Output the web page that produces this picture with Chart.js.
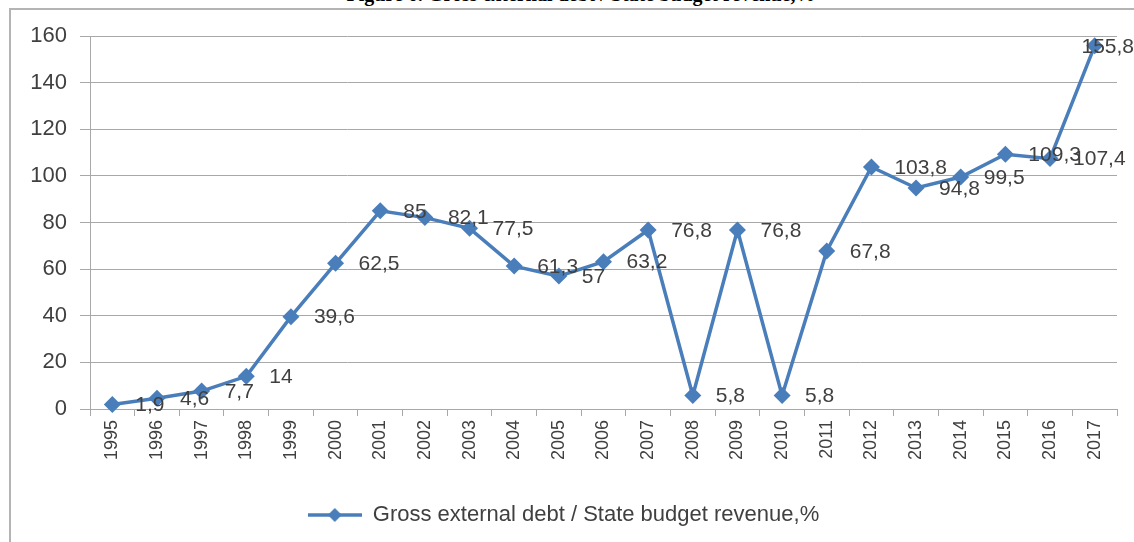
<!DOCTYPE html>
<html>
<head>
<meta charset="utf-8">
<script src="https://cdn.jsdelivr.net/npm/chart.js@4.4.0/dist/chart.umd.min.js"></script>
<style>
  html, body { margin: 0; padding: 0; background: #fff; }
  #wrap { position: relative; width: 1134px; height: 542px; overflow: hidden; }
  #title {
    position: absolute; left: 0; width: 1162px; top: -17px; text-align: center;
    font: bold 20px "Liberation Serif", serif; color: #000; white-space: nowrap;
  }
  #frame {
    position: absolute; left: 9px; top: 8px; right: -5px; bottom: -5px;
    border-left: 2px solid #b4b4b4; border-top: 2px solid #b4b4b4;
  }
  canvas { position: absolute; left: 0; top: 0; }
</style>
</head>
<body>
<div id="wrap">
  <div id="title">Figure 6. Gross external debt / State budget revenue,%</div>
  <div id="frame"></div>
  <canvas id="chart" width="1134" height="542"></canvas>
</div>
<script>
document.addEventListener('DOMContentLoaded', () => {

    // --- DADOS ---
    const years = ['1995', '1996', '1997', '1998', '1999', '2000', '2001', '2002', '2003', '2004', '2005', '2006',
                   '2007', '2008', '2009', '2010', '2011', '2012', '2013', '2014', '2015', '2016', '2017'];
    const debtRatio = [1.9, 4.6, 7.7, 14, 39.6, 62.5, 85, 82.1, 77.5, 61.3, 57, 63.2,
                       76.8, 5.8, 76.8, 5.8, 67.8, 103.8, 94.8, 99.5, 109.3, 107.4, 155.8];
    const seriesName = 'Gross external debt / State budget revenue,%';
    const yTicks = [0, 20, 40, 60, 80, 100, 120, 140, 160];

    const BLUE = '#4a7ebb';
    const TEXT = '#404040';
    const GRID = '#a8a8a8';
    const FONT = '"Liberation Sans", Arial, sans-serif';

    // simbolo da legenda: linha com losango
    const legendIcon = document.createElement('canvas');
    legendIcon.width = 54;
    legendIcon.height = 18;
    const ic = legendIcon.getContext('2d');
    ic.strokeStyle = BLUE;
    ic.lineWidth = 3.5;
    ic.beginPath(); ic.moveTo(0, 9); ic.lineTo(54, 9); ic.stroke();
    ic.fillStyle = BLUE;
    ic.beginPath(); ic.moveTo(27, 2); ic.lineTo(34, 9); ic.lineTo(27, 16); ic.lineTo(20, 9); ic.closePath(); ic.fill();

    // rotulos de valor a direita de cada ponto
    const valueLabels = {
        id: 'valueLabels',
        afterDatasetsDraw(chart) {
            const ctx = chart.ctx;
            const meta = chart.getDatasetMeta(0);
            ctx.save();
            ctx.font = '21px ' + FONT;
            ctx.fillStyle = TEXT;
            ctx.textAlign = 'left';
            ctx.textBaseline = 'middle';
            meta.data.forEach((pt, i) => {
                const txt = String(debtRatio[i]).replace('.', ',');
                const w = ctx.measureText(txt).width;
                const x = Math.min(pt.x + 23, chart.width - w);
                ctx.fillText(txt, x, pt.y + 1);
            });
            ctx.restore();
        }
    };

    new Chart(document.getElementById('chart'), {
        type: 'line',
        data: {
            labels: years,
            datasets: [{
                label: seriesName,
                data: debtRatio,
                borderColor: BLUE,
                backgroundColor: BLUE,
                borderWidth: 3.5,
                pointStyle: 'rectRot',
                pointRadius: 8.5,
                pointBorderWidth: 0,
                pointBackgroundColor: BLUE,
                tension: 0,
                clip: false
            }]
        },
        options: {
            responsive: false,
            animation: false,
            layout: { padding: { left: 10, right: 17, top: 36, bottom: 6 } },
            scales: {
                x: {
                    offset: true,
                    grid: { offset: true, drawOnChartArea: false, drawTicks: true, tickLength: 7, color: GRID },
                    border: { color: GRID, width: 1 },
                    ticks: { color: TEXT, font: { family: FONT, size: 18 }, minRotation: 90, maxRotation: 90, padding: 4 },
                    afterFit: (s) => { s.height = 87; }
                },
                y: {
                    min: 0,
                    max: 160,
                    afterBuildTicks: (s) => { s.ticks = yTicks.map(v => ({ value: v })); },
                    grid: { color: GRID, tickLength: 10 },
                    border: { color: GRID, width: 1 },
                    ticks: { color: TEXT, font: { family: FONT, size: 22 }, padding: 13 },
                    afterFit: (s) => { s.width = 80; }
                }
            },
            plugins: {
                legend: {
                    position: 'bottom',
                    labels: {
                        usePointStyle: true,
                        pointStyle: legendIcon,
                        pointStyleWidth: 54,
                        color: TEXT,
                        font: { family: FONT, size: 22 },
                        padding: 8
                    }
                },
                tooltip: { enabled: false }
            }
        },
        plugins: [valueLabels]
    });
});
</script>
</body>
</html>
